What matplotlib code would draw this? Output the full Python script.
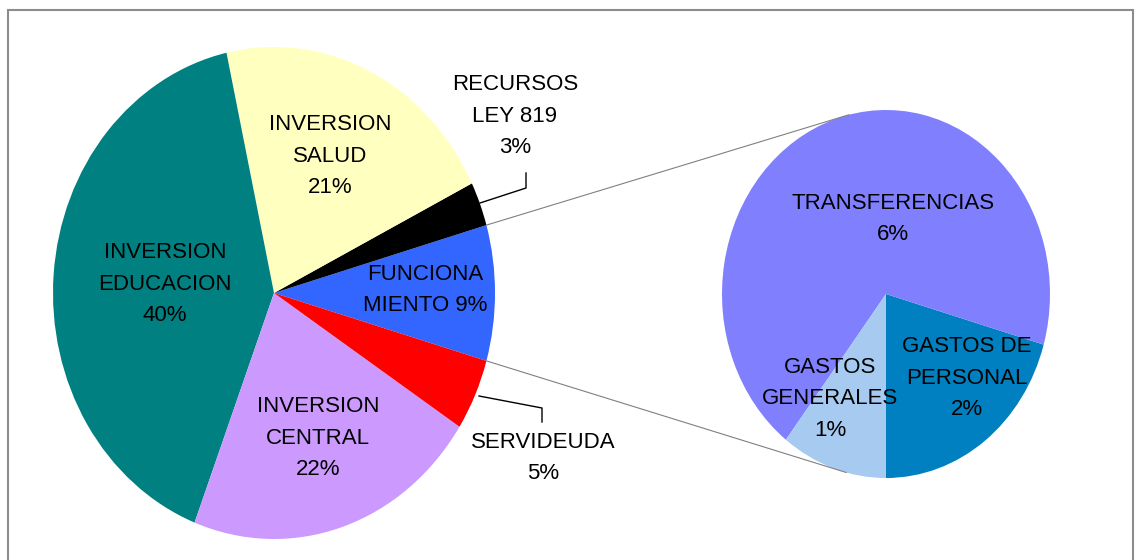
import matplotlib.pyplot as plt
from matplotlib.patches import ConnectionPatch, Rectangle
import numpy as np

plt.rcParams['font.family'] = ['Liberation Sans', 'DejaVu Sans']

# main pie, counterclockwise from the right side
main_names = ['FUNCIONAMIENTO', 'RECURSOS LEY 819', 'INVERSION SALUD',
              'INVERSION EDUCACION', 'INVERSION CENTRAL', 'SERVIDEUDA']
main_vals = [8.9, 2.9, 21.1, 40.7, 21.7, 4.7]
main_colors = ['#3366FF', '#000000', '#FFFFC0', '#008080', '#CC99FF', '#FF0000']

# second pie (breakdown of funcionamiento)
sub_names = ['GASTOS DE PERSONAL', 'TRANSFERENCIAS', 'GASTOS GENERALES']
sub_vals = [1.83, 6.14, 0.93]
sub_colors = ['#0080C0', '#8080FF', '#A6CAF0']

W, H = 1136, 560
fig = plt.figure(figsize=(W / 100, H / 100), dpi=100)


def px(x, y):
    return x / W, 1 - y / H


# outer frame
fig.patches.append(Rectangle(px(8, 580), (1133 - 8) / W, (580 - 10) / H,
                             transform=fig.transFigure, fill=False,
                             edgecolor='#8c8c8c', lw=1.5, clip_on=False))

ax1 = fig.add_axes([53 / W, 1 - 539 / H, 442 / W, 492 / H])
ax1.pie(main_vals, colors=main_colors, startangle=-main_vals[0] / 100 * 180,
        radius=1, counterclock=True)
ax1.set_aspect('auto')
ax1.set_xlim(-1, 1)
ax1.set_ylim(-1, 1)
ax1.axis('off')

ax2 = fig.add_axes([722 / W, 1 - 478 / H, 328 / W, 368 / H])
ax2.pie(sub_vals, colors=sub_colors, startangle=-90, radius=1, counterclock=True)
ax2.set_aspect('auto')
ax2.set_xlim(-1, 1)
ax2.set_ylim(-1, 1)
ax2.axis('off')

# connector lines between the two pies
half = np.deg2rad(main_vals[0] / 100 * 180)
for a_main, a_sub in [(half, np.deg2rad(103)), (-half, np.deg2rad(256))]:
    con = ConnectionPatch(xyA=(np.cos(a_main), np.sin(a_main)), coordsA=ax1.transData,
                          xyB=(np.cos(a_sub), np.sin(a_sub)), coordsB=ax2.transData,
                          color='#808080', lw=0.8)
    fig.add_artist(con)

# data labels
fs = 16
labels = [
    ('INVERSION\nSALUD\n21%', 330, 156),
    ('RECURSOS\nLEY 819\n3%', 515, 116),
    ('INVERSION\nEDUCACION\n40%', 165, 284),
    ('FUNCIONA\nMIENTO 9%', 425, 290),
    ('INVERSION\nCENTRAL\n22%', 318, 438),
    ('SERVIDEUDA\n5%', 543, 458),
    ('TRANSFERENCIAS\n6%', 893, 219),
    ('GASTOS\nGENERALES\n1%', 830, 399),
    ('GASTOS DE\nPERSONAL\n2%', 967, 378),
]
for txt, x, y in labels:
    fig.text(*px(x, y), txt, ha='center', va='center', fontsize=fs,
             linespacing=1.65, color='black')

# leader lines
for pts in [[(480, 203), (526, 188), (526, 173)],
            [(479, 396), (542, 408), (542, 422)]]:
    xs, ys = zip(*[px(x, y) for x, y in pts])
    fig.add_artist(plt.Line2D(xs, ys, transform=fig.transFigure, color='black', lw=1))

fig.savefig('out.png', dpi=100)
